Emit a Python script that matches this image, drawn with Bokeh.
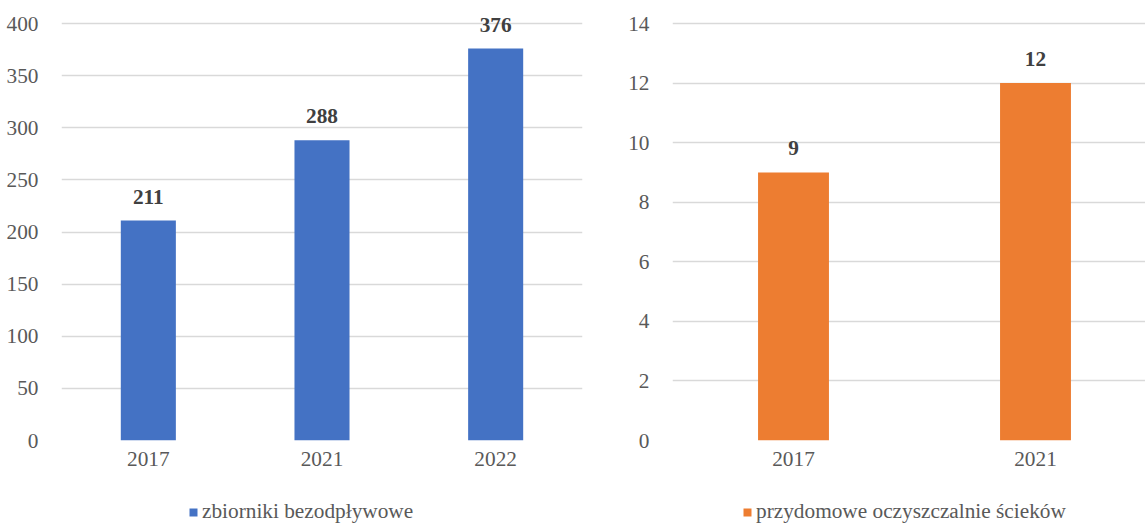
from bokeh.plotting import figure
from bokeh.models import (ColumnDataSource, LabelSet, Legend, LegendItem, Range1d,
                          FixedTicker, SingleIntervalTicker)
from bokeh.layouts import row, column
from bokeh.embed import file_html
from bokeh.resources import INLINE

# ---- data ----
years_a = ["2017", "2021", "2022"]
values_a = [211, 288, 376]
series_a = "zbiorniki bezodpływowe"

years_b = ["2017", "2021"]
values_b = [9, 12]
series_b = "przydomowe oczyszczalnie ścieków"

FONT = "Liberation Serif"
FS = "21.3px"
TXT = "#595959"
GRID = "#D9D9D9"
CHART_H = 490
LEG_H = 34


def make_chart(cats, vals, color, series, width, b_left, b_right, x_end,
               y_top, y_step, bar_w, legend_x):
    idx = list(range(len(cats)))
    src = ColumnDataSource(dict(x=idx, y=vals, lbl=[str(v) for v in vals]))
    p = figure(width=width, height=CHART_H, output_backend="svg", toolbar_location=None,
               x_range=Range1d(-0.5, x_end), y_range=Range1d(0, y_top),
               min_border_left=b_left, min_border_right=b_right,
               min_border_top=5, min_border_bottom=50)
    p.outline_line_color = None
    p.background_fill_color = "white"
    p.border_fill_color = "white"
    p.vbar(x="x", top="y", width=bar_w, source=src, fill_color=color, line_color=None)

    p.xgrid.visible = False
    p.ygrid.ticker = SingleIntervalTicker(interval=y_step)
    p.ygrid.grid_line_color = GRID
    p.ygrid.grid_line_width = 1.6

    ya = p.yaxis[0]
    ya.ticker = SingleIntervalTicker(interval=y_step)
    ya.axis_line_color = None
    ya.major_tick_line_color = None
    ya.minor_tick_line_color = None
    ya.major_tick_out = 0
    ya.major_label_standoff = 19
    ya.major_label_text_font = FONT
    ya.major_label_text_font_size = FS
    ya.major_label_text_color = TXT

    xa = p.xaxis[0]
    xa.ticker = FixedTicker(ticks=idx)
    xa.major_label_overrides = {i: c for i, c in zip(idx, cats)}
    xa.axis_line_color = None
    xa.major_tick_line_color = None
    xa.minor_tick_line_color = None
    xa.major_tick_out = 0
    xa.major_label_standoff = 11
    xa.major_label_text_font = FONT
    xa.major_label_text_font_size = FS
    xa.major_label_text_color = TXT

    labels = LabelSet(x="x", y="y", text="lbl", source=src, text_align="center",
                      text_baseline="alphabetic", y_offset=17, text_font=FONT,
                      text_font_size=FS, text_font_style="bold", text_color="#404040")
    p.add_layout(labels)

    # legend strip below the chart; its key renderer shares the data but is hidden
    # (and lies outside this strip's y-range), so only the legend entry shows
    lg = figure(width=width, height=LEG_H, output_backend="svg", toolbar_location=None,
                x_axis_location=None, y_axis_location=None,
                x_range=Range1d(-0.5, x_end), y_range=Range1d(10000, 10001),
                min_border_left=b_left, min_border_right=b_right,
                min_border_top=0, min_border_bottom=0)
    lg.outline_line_color = None
    lg.xgrid.visible = False
    lg.ygrid.visible = False
    key = lg.vbar(x="x", top="y", width=bar_w, source=src, fill_color=color,
                  line_color=None)
    key.visible = False
    legend = Legend(items=[LegendItem(label=series, renderers=[key])],
                    location=(legend_x, 0), orientation="horizontal",
                    glyph_width=10, glyph_height=10, label_standoff=4,
                    padding=0, margin=0, spacing=0,
                    label_text_font=FONT, label_text_font_size=FS,
                    label_text_color=TXT, background_fill_alpha=0,
                    border_line_color=None, inactive_fill_alpha=0)
    lg.add_layout(legend, "center")
    return column(p, lg, spacing=0)


# y-range tops chosen so that the tick range (400 / 14) spans 417 px of a 435 px frame
c1 = make_chart(years_a, values_a, "#4472C4", series_a, 600, 61, 18, 2.5,
                400 * 435 / 417, 50, 0.317, 127)
c2 = make_chart(years_b, values_b, "#ED7D31", series_b, 545, 72, 0,
                -0.5 + 473 / 242, 14 * 435 / 417, 2, 0.293, 70)

layout = row(c1, c2, spacing=0)
open("out.html", "w").write(file_html(layout, INLINE))
